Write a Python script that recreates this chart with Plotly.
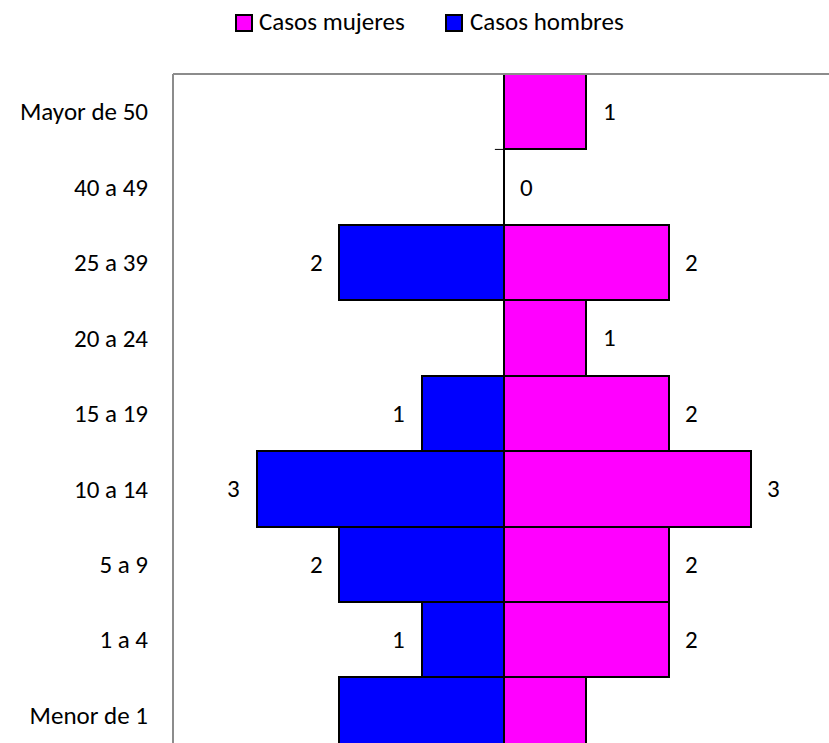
import plotly.graph_objects as go

categories = ["Menor de 1", "1 a 4", "5 a 9", "10 a 14", "15 a 19", "20 a 24", "25 a 39", "40 a 49", "Mayor de 50"]
mujeres = [1, 2, 2, 3, 2, 1, 2, 0, 1]
hombres = [2, 1, 2, 3, 1, 0, 2, 0, 0]
series_names = ["Casos mujeres", "Casos hombres"]
# bottom row labels fall outside the visible area in the reference
labeled = [False, True, True, True, True, True, True, True, True]

FONT = "Carlito, Calibri, Lato, sans-serif"
FS = 25
PINK = "#FF00FF"
BLUE = "#0000FF"
GRAY = "#8C8C8C"

W, H = 829, 743
ML, MT = 173, 74
PW, PH = W - ML, H - MT


def px(xs):  # screen x -> paper x
    return (xs - ML) / PW


def py(ys):  # screen y -> paper y
    return (H - ys) / PH


fig = go.Figure()
fig.add_trace(go.Bar(
    y=categories, x=mujeres, orientation="h", name=series_names[0],
    marker=dict(color=PINK, line=dict(color="black", width=2)), showlegend=False,
))
fig.add_trace(go.Bar(
    y=categories, x=[-v for v in hombres], orientation="h", name=series_names[1],
    marker=dict(color=BLUE, line=dict(color="black", width=2)), showlegend=False,
))

annotations = []
for c, v, ok in zip(categories, mujeres, labeled):
    if ok:
        annotations.append(dict(x=v, y=c, xref="x", yref="y", text=str(v), showarrow=False,
                                xanchor="center", xshift=23, font=dict(family=FONT, size=FS, color="black")))
for c, v, ok in zip(categories, hombres, labeled):
    if ok and v:
        annotations.append(dict(x=-v, y=c, xref="x", yref="y", text=str(v), showarrow=False,
                                xanchor="center", xshift=-23, font=dict(family=FONT, size=FS, color="black")))

shapes = []
for i in range(len(categories) + 1):
    shapes.append(dict(type="line", xref="x", yref="y", xsizemode="pixel", xanchor=0,
                       x0=-9, x1=0, y0=i - 0.5, y1=i - 0.5,
                       line=dict(color="black", width=1), layer="below"))
# plot area border (left and top)
shapes.append(dict(type="line", xref="paper", yref="paper", x0=0, x1=0, y0=0, y1=1,
                   line=dict(color=GRAY, width=2)))
shapes.append(dict(type="line", xref="paper", yref="paper", x0=0, x1=1, y0=1, y1=1,
                   line=dict(color=GRAY, width=2)))

# custom legend
legend_items = [(series_names[0], PINK, 236, 257), (series_names[1], BLUE, 446, 468)]
for name, col, sx, tx in legend_items:
    shapes.append(dict(type="rect", xref="paper", yref="paper",
                       x0=px(sx), x1=px(sx + 16), y0=py(31), y1=py(15),
                       fillcolor=col, line=dict(color="black", width=2)))
    annotations.append(dict(x=px(tx), y=py(22), xref="paper", yref="paper", text=name,
                            showarrow=False, xanchor="left", yanchor="middle",
                            font=dict(family=FONT, size=FS, color="black")))

fig.update_layout(
    width=W, height=H,
    margin=dict(l=ML, r=0, t=MT, b=0),
    paper_bgcolor="white", plot_bgcolor="white",
    barmode="overlay", bargap=0,
    font=dict(family=FONT, size=FS, color="black"),
    showlegend=False,
    xaxis=dict(range=[-4.02, 3.95], showticklabels=False, showgrid=False, ticks="",
               zeroline=True, zerolinecolor=GRAY, zerolinewidth=1, fixedrange=True),
    yaxis=dict(type="category", categoryorder="array", categoryarray=categories,
               range=[-0.37, 8.5], showgrid=False, ticks="", ticklabelstandoff=24,
               tickfont=dict(family=FONT, size=FS), zeroline=False, fixedrange=True),
    annotations=annotations,
    shapes=shapes,
)

fig.write_html("out.html", config={"displayModeBar": False},
               post_script="document.body.style.margin='0';document.body.style.overflow='hidden';")
